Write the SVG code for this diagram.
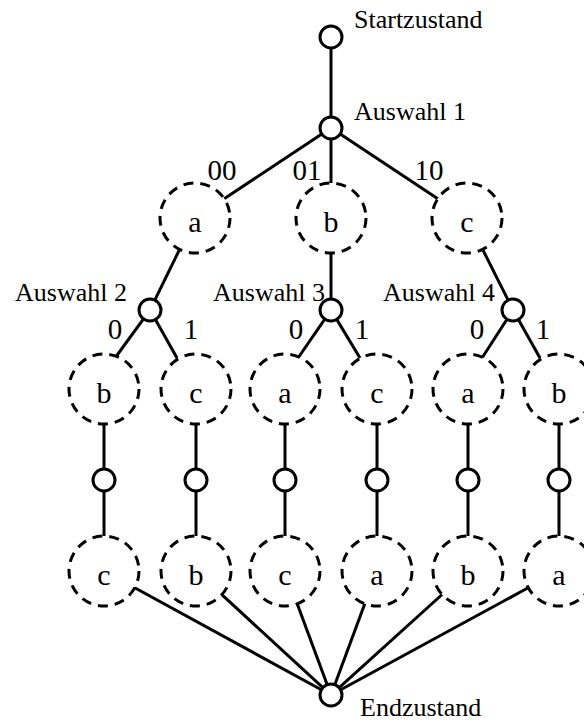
<svg xmlns="http://www.w3.org/2000/svg" width="584" height="722" viewBox="0 0 584 722" font-family="'Liberation Serif', 'DejaVu Serif', serif">
  <defs>
    <style>
      .edge { stroke: #000; stroke-width: 3; fill: none; stroke-linecap: butt; }
      .state { fill: #fff; stroke: #000; stroke-width: 3; }
      .item { fill: #fff; stroke: #000; stroke-width: 3; stroke-dasharray: 10 7; }
      text { font-family: 'Liberation Serif', 'DejaVu Serif', serif; fill: #000; }
      .name { font-size: 26px; }
      .bit { font-size: 29px; text-anchor: middle; }
      .sym { font-size: 30px; text-anchor: middle; }
    </style>
  </defs>
  <rect width="584" height="722" fill="#fff"/>

  <!-- connectors -->
  <g id="connectors" class="edge">
    <line x1="331" y1="48" x2="331" y2="117"/>
    <line x1="321.8" y1="134.1" x2="224.2" y2="198.7"/>
    <line x1="331" y1="139" x2="331" y2="183"/>
    <line x1="340.2" y1="134.1" x2="437.8" y2="198.7"/>
    <line x1="179.6" y1="249.4" x2="154.8" y2="300.1"/>
    <line x1="331" y1="253" x2="331" y2="299"/>
    <line x1="482.6" y1="249.3" x2="508.1" y2="300.2"/>
    <line x1="143.5" y1="318.9" x2="115" y2="358"/>
    <line x1="155.4" y1="319.6" x2="177" y2="358"/>
    <line x1="324.8" y1="319.1" x2="298" y2="358"/>
    <line x1="336.7" y1="319.4" x2="360" y2="358"/>
    <line x1="507" y1="319.2" x2="482" y2="358"/>
    <line x1="518.4" y1="319.6" x2="540" y2="358"/>
    <line x1="104" y1="424" x2="104" y2="469"/>
    <line x1="196" y1="424" x2="196" y2="469"/>
    <line x1="285" y1="424" x2="285" y2="469"/>
    <line x1="377" y1="424" x2="377" y2="469"/>
    <line x1="468" y1="424" x2="468" y2="469"/>
    <line x1="559" y1="424" x2="559" y2="469"/>
    <line x1="104" y1="491" x2="104" y2="536"/>
    <line x1="196" y1="491" x2="196" y2="536"/>
    <line x1="285" y1="491" x2="285" y2="536"/>
    <line x1="377" y1="491" x2="377" y2="536"/>
    <line x1="468" y1="491" x2="468" y2="536"/>
    <line x1="559" y1="491" x2="559" y2="536"/>
    <line x1="321.3" y1="689.7" x2="134.7" y2="587.8"/>
    <line x1="322.9" y1="687.6" x2="221.8" y2="594.7"/>
    <line x1="327.2" y1="684.7" x2="297.2" y2="603.8"/>
    <line x1="334.8" y1="684.7" x2="364.8" y2="603.8"/>
    <line x1="339.2" y1="687.6" x2="442.1" y2="594.5"/>
    <line x1="340.7" y1="689.7" x2="528.2" y2="587.7"/>
  </g>

  <!-- branch labels -->
  <g id="labels">
    <text class="bit" x="222" y="180">00</text>
    <text class="bit" x="307" y="180">01</text>
    <text class="bit" x="429" y="180">10</text>
    <text class="bit" x="115" y="339">0</text>
    <text class="bit" x="191" y="339">1</text>
    <text class="bit" x="296" y="339">0</text>
    <text class="bit" x="362" y="339">1</text>
    <text class="bit" x="477" y="339">0</text>
    <text class="bit" x="543" y="339">1</text>
  </g>

  <!-- states -->
  <g id="start">
    <circle class="state" cx="331" cy="37" r="11"/>
    <text class="name" x="354" y="28">Startzustand</text>
  </g>
  <g id="choice1">
    <circle class="state" cx="331" cy="128" r="11"/>
    <text class="name" x="354" y="120">Auswahl 1</text>
  </g>
  <g id="choice2">
    <circle class="state" cx="150" cy="310" r="11"/>
    <text class="name" x="127" y="301" text-anchor="end">Auswahl 2</text>
  </g>
  <g id="choice3">
    <circle class="state" cx="331" cy="310" r="11"/>
    <text class="name" x="325" y="301" text-anchor="end">Auswahl 3</text>
  </g>
  <g id="choice4">
    <circle class="state" cx="513" cy="310" r="11"/>
    <text class="name" x="495" y="301" text-anchor="end">Auswahl 4</text>
  </g>
  <g id="end">
    <circle class="state" cx="331" cy="695" r="11"/>
    <text class="name" x="360" y="716">Endzustand</text>
  </g>

  <!-- first pick -->
  <g id="pick-a"><circle class="item" cx="195" cy="218" r="35"/><text class="sym" x="195" y="232">a</text></g>
  <g id="pick-b"><circle class="item" cx="331" cy="218" r="35"/><text class="sym" x="331" y="232">b</text></g>
  <g id="pick-c"><circle class="item" cx="467" cy="218" r="35"/><text class="sym" x="467" y="232">c</text></g>

  <!-- second pick -->
  <g id="pick-ab"><circle class="item" cx="104" cy="389" r="35"/><text class="sym" x="104" y="403">b</text></g>
  <g id="pick-ac"><circle class="item" cx="196" cy="389" r="35"/><text class="sym" x="196" y="403">c</text></g>
  <g id="pick-ba"><circle class="item" cx="285" cy="389" r="35"/><text class="sym" x="285" y="403">a</text></g>
  <g id="pick-bc"><circle class="item" cx="377" cy="389" r="35"/><text class="sym" x="377" y="403">c</text></g>
  <g id="pick-ca"><circle class="item" cx="468" cy="389" r="35"/><text class="sym" x="468" y="403">a</text></g>
  <g id="pick-cb"><circle class="item" cx="559" cy="389" r="35"/><text class="sym" x="559" y="403">b</text></g>

  <!-- intermediate states -->
  <g id="mid-abc"><circle class="state" cx="104" cy="480" r="11"/></g>
  <g id="mid-acb"><circle class="state" cx="196" cy="480" r="11"/></g>
  <g id="mid-bac"><circle class="state" cx="285" cy="480" r="11"/></g>
  <g id="mid-bca"><circle class="state" cx="377" cy="480" r="11"/></g>
  <g id="mid-cab"><circle class="state" cx="468" cy="480" r="11"/></g>
  <g id="mid-cba"><circle class="state" cx="559" cy="480" r="11"/></g>

  <!-- third pick -->
  <g id="pick-abc"><circle class="item" cx="104" cy="571" r="35"/><text class="sym" x="104" y="585">c</text></g>
  <g id="pick-acb"><circle class="item" cx="196" cy="571" r="35"/><text class="sym" x="196" y="585">b</text></g>
  <g id="pick-bac"><circle class="item" cx="285" cy="571" r="35"/><text class="sym" x="285" y="585">c</text></g>
  <g id="pick-bca"><circle class="item" cx="377" cy="571" r="35"/><text class="sym" x="377" y="585">a</text></g>
  <g id="pick-cab"><circle class="item" cx="468" cy="571" r="35"/><text class="sym" x="468" y="585">b</text></g>
  <g id="pick-cba"><circle class="item" cx="559" cy="571" r="35"/><text class="sym" x="559" y="585">a</text></g>
</svg>
